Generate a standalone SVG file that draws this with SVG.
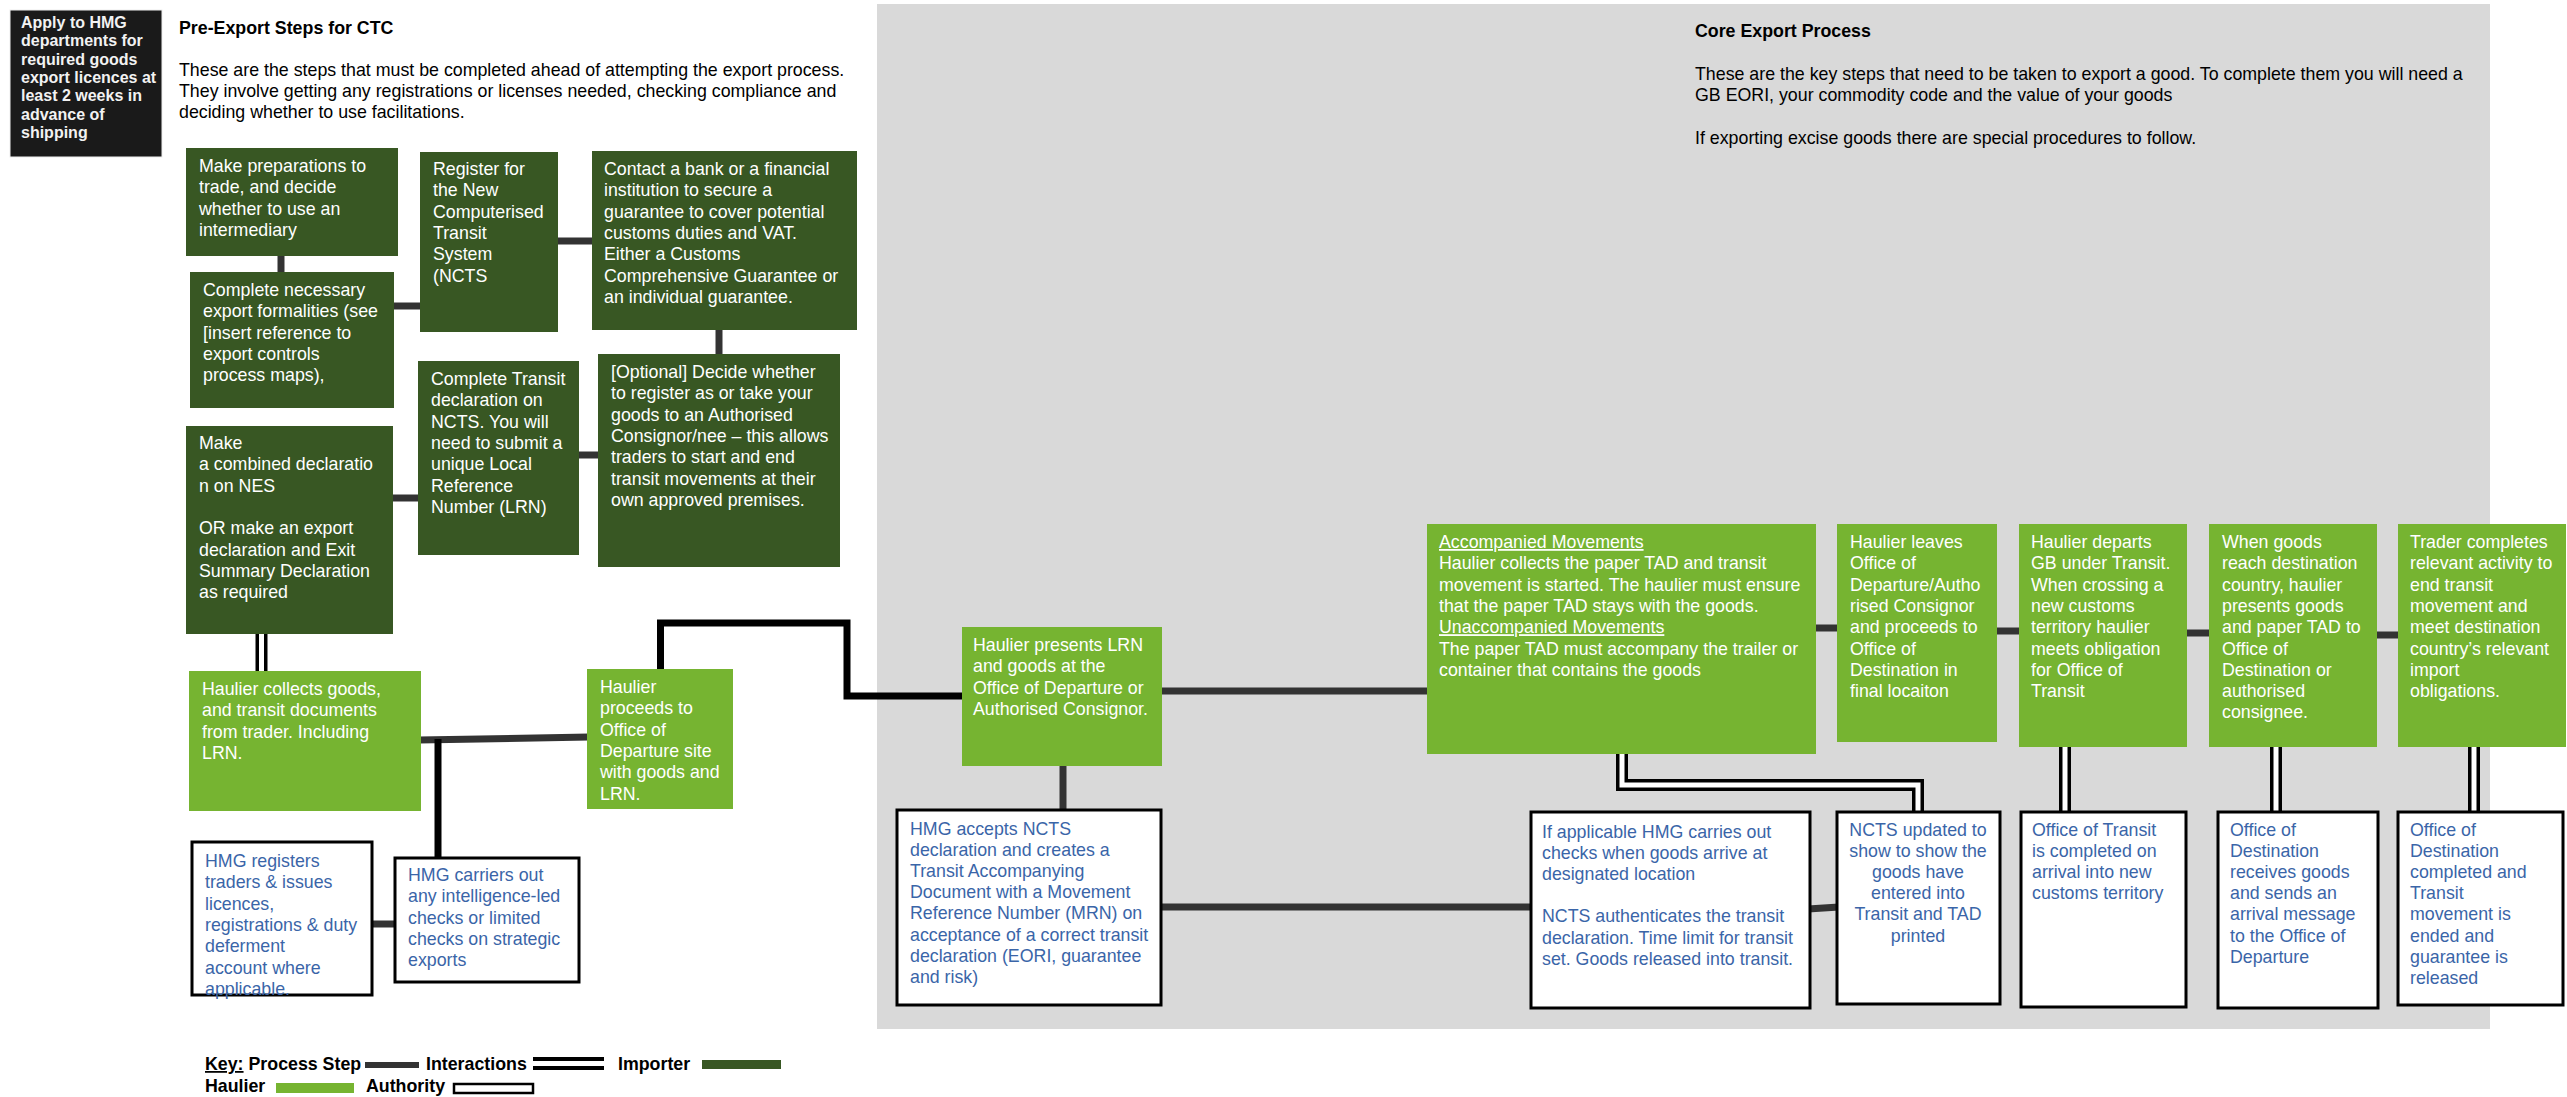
<svg xmlns="http://www.w3.org/2000/svg" width="2567" height="1097" viewBox="0 0 2567 1097">
<style>
text { font-family: "Liberation Sans", Arial, sans-serif; font-size: 17.8px; }
.w { fill: #ffffff; }
.bl { fill: #3a65a8; }
.k { fill: #000000; }
.hd { font-weight: bold; fill: #000; }
.imp { fill: #385723; }
.hau { fill: #76b431; }
.auth { fill: #ffffff; stroke: #000; stroke-width: 3; }
.ps { stroke: #333333; stroke-width: 7; fill: none; }
.blk { stroke: #000; stroke-width: 7; fill: none; }
.dO { stroke: #000; stroke-width: 12; fill: none; }
.dI { stroke: #ffffff; stroke-width: 5; fill: none; }
.u { text-decoration: underline; }
</style>

<rect x="877" y="4" width="1613" height="1025" fill="#d9d9d9"/>

<g id="title-left">
<text class="hd" x="179" y="34">Pre-Export Steps for CTC</text>
<text class="k" x="179" y="76">These are the steps that must be completed ahead of attempting the export process.<tspan x="179" dy="21">They involve getting any registrations or licenses needed, checking compliance and</tspan><tspan x="179" dy="21">deciding whether to use facilitations.</tspan></text>
</g>
<g id="title-right">
<text class="hd" x="1695" y="37">Core Export Process</text>
<text class="k" x="1695" y="80">These are the key steps that need to be taken to export a good. To complete them you will need a<tspan x="1695" dy="21.3">GB EORI, your commodity code and the value of your goods</tspan><tspan x="1695" dy="42.6">If exporting excise goods there are special procedures to follow.</tspan></text>
</g>

<g id="connectors">
<line class="ps" x1="281" y1="254" x2="281" y2="274"/>
<line class="ps" x1="392" y1="306" x2="422" y2="306"/>
<line class="ps" x1="556" y1="241" x2="594" y2="241"/>
<line class="ps" x1="719" y1="328" x2="719" y2="356"/>
<line class="ps" x1="577" y1="455" x2="600" y2="455"/>
<line class="ps" x1="391" y1="498" x2="420" y2="498"/>
<path class="dO" d="M261.5 632 V673"/>
<path class="dI" d="M261.5 632 V673"/>
<line class="ps" x1="419" y1="740" x2="589" y2="737"/>
<line class="blk" x1="438" y1="739" x2="438" y2="860"/>
<line class="ps" x1="370" y1="924" x2="397" y2="924"/>
<path class="blk" d="M660.5 671 V623 H847 V696 H964"/>
<line class="ps" x1="1063" y1="764" x2="1063" y2="812"/>
<line class="ps" x1="1160" y1="907" x2="1533" y2="907"/>
<line class="ps" x1="1808" y1="909" x2="1839" y2="907"/>
<line class="ps" x1="1160" y1="691" x2="1429" y2="691"/>
<line class="ps" x1="1814" y1="628" x2="1839" y2="628"/>
<line class="ps" x1="1995" y1="631" x2="2021" y2="631"/>
<line class="ps" x1="2185" y1="633" x2="2211" y2="633"/>
<line class="ps" x1="2375" y1="635" x2="2400" y2="635"/>
<path class="dO" d="M1622 752 V785 H1918 V814"/>
<path class="dI" d="M1622 752 V785 H1918 V814"/>
<path class="dO" d="M2065 745 V814"/>
<path class="dI" d="M2065 745 V814"/>
<path class="dO" d="M2276 745 V814"/>
<path class="dI" d="M2276 745 V814"/>
<path class="dO" d="M2474 745 V814"/>
<path class="dI" d="M2474 745 V814"/>
</g>

<g id="apply-hmg">
<rect x="10" y="10" width="152" height="147" fill="#1a1a1a" stroke="#eeeeee" stroke-width="1"/>
<text x="21" y="28" style="font-size:16px;font-weight:bold;fill:#f2f2f2">Apply to HMG<tspan x="21" dy="18.3">departments for</tspan><tspan x="21" dy="18.3">required goods</tspan><tspan x="21" dy="18.3">export licences at</tspan><tspan x="21" dy="18.3">least 2 weeks in</tspan><tspan x="21" dy="18.3">advance of</tspan><tspan x="21" dy="18.3">shipping</tspan></text>
</g>

<g id="make-preparations">
<rect class="imp" x="186" y="148" width="212" height="108"/>
<text class="w" x="199" y="172">Make preparations to<tspan x="199" dy="21.3">trade, and decide</tspan><tspan x="199" dy="21.3">whether to use an</tspan><tspan x="199" dy="21.3">intermediary</tspan></text>
</g>
<g id="complete-formalities">
<rect class="imp" x="190" y="272" width="204" height="136"/>
<text class="w" x="203" y="296">Complete necessary<tspan x="203" dy="21.3">export formalities (see</tspan><tspan x="203" dy="21.3">[insert reference to</tspan><tspan x="203" dy="21.3">export controls</tspan><tspan x="203" dy="21.3">process maps),</tspan></text>
</g>
<g id="register-ncts">
<rect class="imp" x="420" y="152" width="138" height="180"/>
<text class="w" x="433" y="175">Register for<tspan x="433" dy="21.3">the New</tspan><tspan x="433" dy="21.3">Computerised</tspan><tspan x="433" dy="21.3">Transit</tspan><tspan x="433" dy="21.3">System</tspan><tspan x="433" dy="21.3">(NCTS</tspan></text>
</g>
<g id="contact-bank">
<rect class="imp" x="592" y="151" width="265" height="179"/>
<text class="w" x="604" y="175">Contact a bank or a financial<tspan x="604" dy="21.3">institution to secure a</tspan><tspan x="604" dy="21.3">guarantee to cover potential</tspan><tspan x="604" dy="21.3">customs duties and VAT.</tspan><tspan x="604" dy="21.3">Either a Customs</tspan><tspan x="604" dy="21.3">Comprehensive Guarantee or</tspan><tspan x="604" dy="21.3">an individual guarantee.</tspan></text>
</g>
<g id="complete-transit">
<rect class="imp" x="418" y="361" width="161" height="194"/>
<text class="w" x="431" y="385">Complete Transit<tspan x="431" dy="21.3">declaration on</tspan><tspan x="431" dy="21.3">NCTS. You will</tspan><tspan x="431" dy="21.3">need to submit a</tspan><tspan x="431" dy="21.3">unique Local</tspan><tspan x="431" dy="21.3">Reference</tspan><tspan x="431" dy="21.3">Number (LRN)</tspan></text>
</g>
<g id="optional-authorised">
<rect class="imp" x="598" y="354" width="242" height="213"/>
<text class="w" x="611" y="378">[Optional] Decide whether<tspan x="611" dy="21.3">to register as or take your</tspan><tspan x="611" dy="21.3">goods to an Authorised</tspan><tspan x="611" dy="21.3">Consignor/nee – this allows</tspan><tspan x="611" dy="21.3">traders to start and end</tspan><tspan x="611" dy="21.3">transit movements at their</tspan><tspan x="611" dy="21.3">own approved premises.</tspan></text>
</g>
<g id="combined-declaration">
<rect class="imp" x="186" y="426" width="207" height="208"/>
<text class="w" x="199" y="449">Make<tspan x="199" dy="21.3">a combined declaratio</tspan><tspan x="199" dy="21.3">n on NES</tspan><tspan x="199" dy="42.6">OR make an export</tspan><tspan x="199" dy="21.3">declaration and Exit</tspan><tspan x="199" dy="21.3">Summary Declaration</tspan><tspan x="199" dy="21.3">as required</tspan></text>
</g>

<g id="haulier-collects">
<rect class="hau" x="189" y="671" width="232" height="140"/>
<text class="w" x="202" y="695">Haulier collects goods,<tspan x="202" dy="21.3">and transit documents</tspan><tspan x="202" dy="21.3">from trader. Including</tspan><tspan x="202" dy="21.3">LRN.</tspan></text>
</g>
<g id="haulier-proceeds">
<rect class="hau" x="587" y="669" width="146" height="140"/>
<text class="w" x="600" y="693">Haulier<tspan x="600" dy="21.3">proceeds to</tspan><tspan x="600" dy="21.3">Office of</tspan><tspan x="600" dy="21.3">Departure site</tspan><tspan x="600" dy="21.3">with goods and</tspan><tspan x="600" dy="21.3">LRN.</tspan></text>
</g>
<g id="hmg-registers">
<rect class="auth" x="192" y="842" width="180" height="153"/>
<text class="bl" x="205" y="867">HMG registers<tspan x="205" dy="21.3">traders &amp; issues</tspan><tspan x="205" dy="21.3">licences,</tspan><tspan x="205" dy="21.3">registrations &amp; duty</tspan><tspan x="205" dy="21.3">deferment</tspan><tspan x="205" dy="21.3">account where</tspan><tspan x="205" dy="21.3">applicable.</tspan></text>
</g>
<g id="hmg-carries-out">
<rect class="auth" x="395" y="858" width="184" height="124"/>
<text class="bl" x="408" y="881">HMG carriers out<tspan x="408" dy="21.3">any intelligence-led</tspan><tspan x="408" dy="21.3">checks or limited</tspan><tspan x="408" dy="21.3">checks on strategic</tspan><tspan x="408" dy="21.3">exports</tspan></text>
</g>

<g id="haulier-presents">
<rect class="hau" x="962" y="627" width="200" height="139"/>
<text class="w" x="973" y="651">Haulier presents LRN<tspan x="973" dy="21.3">and goods at the</tspan><tspan x="973" dy="21.3">Office of Departure or</tspan><tspan x="973" dy="21.3">Authorised Consignor.</tspan></text>
</g>
<g id="hmg-accepts">
<rect class="auth" x="897" y="810" width="264" height="195"/>
<text class="bl" x="910" y="835">HMG accepts NCTS<tspan x="910" dy="21.1">declaration and  creates a</tspan><tspan x="910" dy="21.1">Transit Accompanying</tspan><tspan x="910" dy="21.1">Document with a  Movement</tspan><tspan x="910" dy="21.1">Reference Number (MRN) on</tspan><tspan x="910" dy="21.1">acceptance of a correct transit</tspan><tspan x="910" dy="21.1">declaration (EORI, guarantee</tspan><tspan x="910" dy="21.1">and risk)</tspan></text>
</g>
<g id="accompanied-movements">
<rect class="hau" x="1427" y="524" width="389" height="230"/>
<text class="w" x="1439" y="548"><tspan class="u">Accompanied Movements</tspan><tspan x="1439" dy="21.3">Haulier collects the paper TAD and transit</tspan><tspan x="1439" dy="21.3">movement is started. The haulier must ensure</tspan><tspan x="1439" dy="21.3">that the paper TAD  stays with the goods.</tspan><tspan x="1439" dy="21.3" class="u">Unaccompanied Movements</tspan><tspan x="1439" dy="21.3">The paper TAD must accompany the trailer or</tspan><tspan x="1439" dy="21.3">container that contains the goods</tspan></text>
</g>
<g id="haulier-leaves">
<rect class="hau" x="1837" y="524" width="160" height="218"/>
<text class="w" x="1850" y="548">Haulier leaves<tspan x="1850" dy="21.3">Office of</tspan><tspan x="1850" dy="21.3">Departure/Autho</tspan><tspan x="1850" dy="21.3">rised Consignor</tspan><tspan x="1850" dy="21.3">and proceeds to</tspan><tspan x="1850" dy="21.3">Office of</tspan><tspan x="1850" dy="21.3">Destination in</tspan><tspan x="1850" dy="21.3">final locaiton</tspan></text>
</g>
<g id="haulier-departs">
<rect class="hau" x="2019" y="524" width="168" height="223"/>
<text class="w" x="2031" y="548">Haulier departs<tspan x="2031" dy="21.3">GB under Transit.</tspan><tspan x="2031" dy="21.3">When crossing a</tspan><tspan x="2031" dy="21.3">new customs</tspan><tspan x="2031" dy="21.3">territory haulier</tspan><tspan x="2031" dy="21.3">meets obligation</tspan><tspan x="2031" dy="21.3">for Office of</tspan><tspan x="2031" dy="21.3">Transit</tspan></text>
</g>
<g id="goods-reach-destination">
<rect class="hau" x="2209" y="524" width="168" height="223"/>
<text class="w" x="2222" y="548">When goods<tspan x="2222" dy="21.3">reach destination</tspan><tspan x="2222" dy="21.3">country, haulier</tspan><tspan x="2222" dy="21.3">presents goods</tspan><tspan x="2222" dy="21.3">and paper TAD to</tspan><tspan x="2222" dy="21.3">Office of</tspan><tspan x="2222" dy="21.3">Destination or</tspan><tspan x="2222" dy="21.3">authorised</tspan><tspan x="2222" dy="21.3">consignee.</tspan></text>
</g>
<g id="trader-completes">
<rect class="hau" x="2398" y="524" width="168" height="223"/>
<text class="w" x="2410" y="548">Trader completes<tspan x="2410" dy="21.3">relevant activity to</tspan><tspan x="2410" dy="21.3">end transit</tspan><tspan x="2410" dy="21.3">movement and</tspan><tspan x="2410" dy="21.3">meet destination</tspan><tspan x="2410" dy="21.3">country’s relevant</tspan><tspan x="2410" dy="21.3">import</tspan><tspan x="2410" dy="21.3">obligations.</tspan></text>
</g>

<g id="hmg-checks">
<rect class="auth" x="1531" y="812" width="279" height="196"/>
<text class="bl" x="1542" y="838">If  applicable HMG carries out<tspan x="1542" dy="21.1">checks when goods arrive at</tspan><tspan x="1542" dy="21.1">designated location</tspan><tspan x="1542" dy="42.2">NCTS authenticates the transit</tspan><tspan x="1542" dy="21.1">declaration. Time limit for transit</tspan><tspan x="1542" dy="21.1">set. Goods released into transit.</tspan></text>
</g>
<g id="ncts-updated">
<rect class="auth" x="1837" y="812" width="163" height="192"/>
<text class="bl" x="1918" y="836" text-anchor="middle">NCTS updated to<tspan x="1918" dy="21.1">show to show the</tspan><tspan x="1918" dy="21.1">goods have</tspan><tspan x="1918" dy="21.1">entered into</tspan><tspan x="1918" dy="21.1">Transit and TAD</tspan><tspan x="1918" dy="21.1">printed</tspan></text>
</g>
<g id="office-of-transit">
<rect class="auth" x="2021" y="812" width="165" height="195"/>
<text class="bl" x="2032" y="836">Office of Transit<tspan x="2032" dy="21.1">is completed on</tspan><tspan x="2032" dy="21.1">arrival into new</tspan><tspan x="2032" dy="21.1">customs territory</tspan></text>
</g>
<g id="destination-receives">
<rect class="auth" x="2218" y="812" width="160" height="196"/>
<text class="bl" x="2230" y="836">Office of<tspan x="2230" dy="21.1">Destination</tspan><tspan x="2230" dy="21.1">receives goods</tspan><tspan x="2230" dy="21.1">and sends an</tspan><tspan x="2230" dy="21.1">arrival message</tspan><tspan x="2230" dy="21.1">to the Office of</tspan><tspan x="2230" dy="21.1">Departure</tspan></text>
</g>
<g id="destination-completed">
<rect class="auth" x="2398" y="812" width="165" height="193"/>
<text class="bl" x="2410" y="836">Office of<tspan x="2410" dy="21.1">Destination</tspan><tspan x="2410" dy="21.1">completed and</tspan><tspan x="2410" dy="21.1">Transit</tspan><tspan x="2410" dy="21.1">movement is</tspan><tspan x="2410" dy="21.1">ended and</tspan><tspan x="2410" dy="21.1">guarantee is</tspan><tspan x="2410" dy="21.1">released</tspan></text>
</g>

<g id="key">
<text class="hd" x="205" y="1070"><tspan class="u">Key:</tspan> Process Step</text>
<rect x="365" y="1062" width="54" height="6" fill="#333333"/>
<text class="hd" x="426" y="1070">Interactions</text>
<rect x="533" y="1057" width="71" height="4" fill="#000"/>
<rect x="533" y="1066" width="71" height="4" fill="#000"/>
<text class="hd" x="618" y="1070">Importer</text>
<rect x="702" y="1060" width="79" height="9" fill="#385723"/>
<text class="hd" x="205" y="1092">Haulier</text>
<rect x="276" y="1083" width="78" height="10" fill="#76b431"/>
<text class="hd" x="366" y="1092">Authority</text>
<rect x="454" y="1084" width="79" height="9" fill="#fff" stroke="#000" stroke-width="2.5"/>
</g>
</svg>
